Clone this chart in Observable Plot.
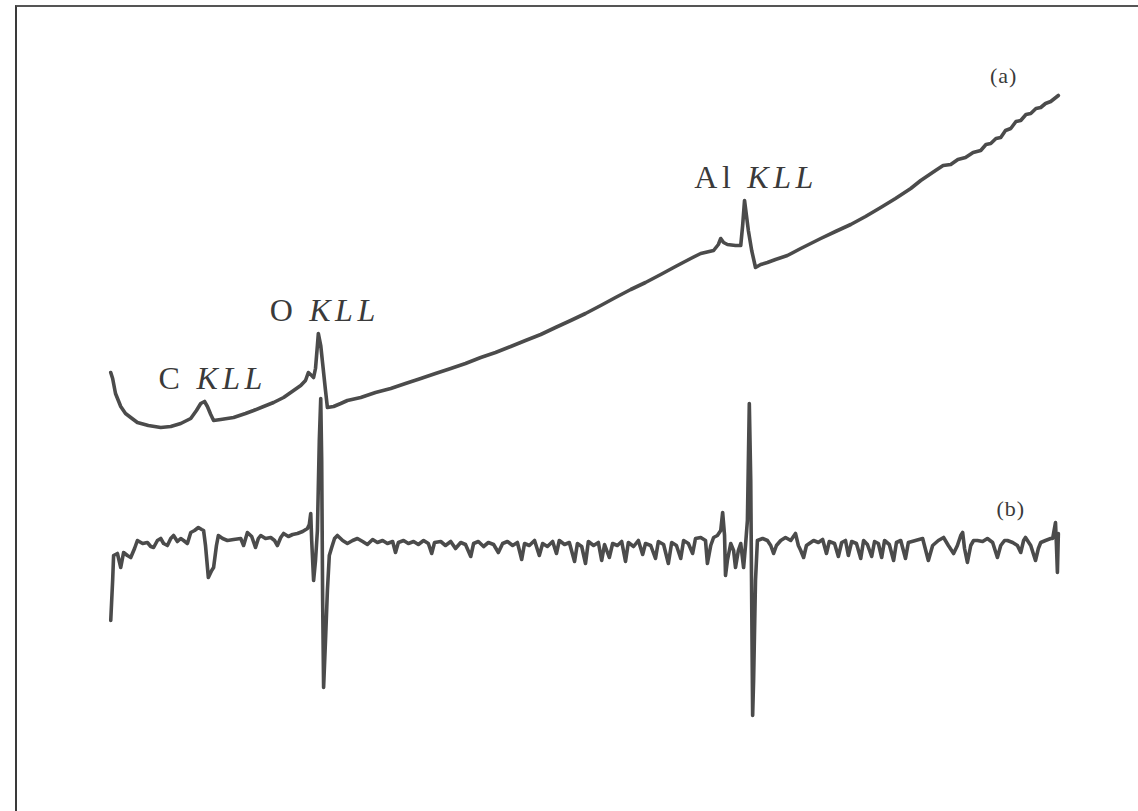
<!DOCTYPE html>
<html>
<head>
<meta charset="utf-8">
<script src="https://cdn.jsdelivr.net/npm/d3@7"></script>
<script src="https://cdn.jsdelivr.net/npm/@observablehq/plot@0.6"></script>
<style>
  html, body { margin: 0; padding: 0; background: #fff; }
  #wrap { position: relative; width: 1138px; height: 811px; overflow: hidden; }
  #wrap svg { position: absolute; left: 0; top: 0; }
  #frame { position: absolute; left: 15px; top: 5px; right: 0; bottom: 0;
           border-left: 2px solid #3a3a3a; border-top: 2px solid #555; pointer-events: none; }
  #wrap svg text.peak { letter-spacing: 4.5px; }
  #wrap svg text.tag { letter-spacing: 1px; }
</style>
</head>
<body>
<div id="wrap"><div id="frame"></div></div>
<script>
// Auger spectrum of an oxidised aluminium surface.
// (a) direct spectrum N(E); (b) differentiated spectrum dN(E)/dE. Energies in eV, intensities in arbitrary units.

const energyA = [74,78,84,95,105,116,130,153,179,200,221,242,254,263,271,277,284,290,305,332,357,374,395,416,437,458,473,483,489,496,500,504,508,510,515,519,525,529,542,557,571,599,630,662,693,725,756,788,819,851,882,914,945,977,1008,1040,1071,1103,1134,1166,1197,1229,1260,1292,1313,1340,1350,1355,1361,1369,1386,1397,1401,1405,1409,1413,1420,1428,1439,1453,1470,1495,1523,1544,1565,1596,1628,1659,1691,1722,1754,1775,1806,1822,1838,1853,1869,1885,1901,1912,1922,1933,1943,1953,1964,1975,1985,1996,2006,2017,2027,2037,2048,2064];
const intensityA = [42.8,42.2,40.7,39.4,38.7,38.3,37.8,37.5,37.3,37.4,37.7,38.2,39.0,39.7,39.9,39.4,38.6,38.0,38.1,38.3,38.7,39.0,39.4,39.8,40.3,41.0,41.5,42.0,42.8,42.5,42.3,43.2,45.5,46.7,45.5,43.7,41.0,39.3,39.4,39.7,40.0,40.3,40.8,41.2,41.7,42.2,42.7,43.2,43.7,44.3,44.8,45.4,46.0,46.6,47.3,48.0,48.7,49.5,50.3,51.1,51.8,52.6,53.4,54.2,54.7,55.0,55.6,56.2,55.8,55.6,55.5,55.5,57.5,60.0,58.5,57.0,55.0,53.3,53.6,53.8,54.1,54.5,55.2,55.7,56.2,56.9,57.6,58.4,59.3,60.2,61.2,62.0,63.0,63.5,63.6,64.1,64.3,64.8,65.0,65.6,65.7,66.2,66.3,67.0,67.2,67.9,68.0,68.6,68.7,69.2,69.3,69.7,69.9,70.5];

const energyB = [
  74,78,80,88,95,101,109,116,124,130,141,151,158,164,172,179,185,193,200,206,214,221,227,235,242,250,258,265,269,273,279,286,290,296,300,309,319,332,347,353,361,370,378,384,389,399,410,418,424,431,437,447,456,466,477,487,491,494,496,500,504,508,512,515,517,519,521,525,529,533,538,544,550,561,571,582,592,
  603,613,624,634,645,655,666,672,678,689,699,710,720,731,741,748,754,767,777,788,798,809,819,830,836,846,857,867,878,888,897,907,918,928,937,943,953,964,974,981,991,1002,1010,1016,1027,1037,1048,1054,1063,1071,1077,1088,1098,1105,1111,1121,1128,1138,1147,1155,1161,1172,1182,1191,1197,1208,1218,1224,1235,1245,1252,1262,1271,1277,1287,1296,1302,
  1313,1323,1327,1334,1340,1348,1355,1359,1363,1365,1369,1376,1382,1386,1392,1397,1403,1407,1411,1415,1418,1420,1422,1424,1428,1432,1443,1453,1460,1466,1472,1481,1491,1502,1512,1518,1523,1529,1535,1550,1560,1569,1577,1583,1594,1602,1609,1617,1623,1630,1640,1649,1655,1663,1672,1678,1686,1693,1699,1709,1718,1724,
  1733,1743,1749,1764,1779,1791,1800,1812,1823,1833,1844,1852,1859,1863,1867,1873,1880,1886,1894,1905,1915,1926,1936,1943,1951,1957,1968,1978,1985,1991,1995,2006,2016,2022,2027,2037,2048,2052,2058,2060,2062,2064
];
const intensityB = [
  18.0,22.0,24.5,24.7,23.3,24.8,24.5,24.3,25.2,26.0,25.7,25.8,25.4,25.3,26.0,26.2,25.7,25.5,26.2,26.5,25.9,26.2,26.0,25.7,26.8,27.0,27.3,27.1,27.0,25.5,22.3,23.0,23.3,25.5,26.5,26.2,26.0,26.1,26.2,25.5,26.8,26.4,25.3,26.2,26.5,26.2,26.3,26.0,25.5,26.3,26.7,26.4,26.6,26.7,26.9,27.2,27.6,28.7,26.0,22.0,24.0,27.0,36.0,40.2,34.0,20.0,11.3,16.0,21.0,24.5,25.3,26.2,26.5,26.0,25.7,26.0,26.2,
  25.9,25.6,26.1,25.8,26.0,25.7,25.9,24.8,25.8,26.0,25.7,25.9,25.6,26.0,25.7,24.7,25.8,25.9,25.5,25.9,25.2,25.8,25.6,24.4,25.7,25.9,25.4,25.8,25.6,24.8,25.7,25.9,25.5,25.8,24.1,25.7,25.5,26.0,24.5,25.7,25.4,25.9,24.7,26.0,25.6,25.8,23.9,25.7,25.4,23.7,25.9,25.5,25.8,24.0,25.6,24.3,25.7,25.5,25.9,23.9,25.8,25.4,26.0,24.6,25.7,25.5,24.2,25.9,25.6,23.7,25.8,25.5,24.2,26.0,25.7,24.7,26.2,
  26.3,26.0,23.7,25.5,26.3,26.5,27.0,28.8,26.5,22.5,24.0,25.7,25.0,23.3,25.0,25.7,23.3,25.5,28.0,39.7,32.0,20.0,8.5,12.0,22.0,26.0,26.2,26.0,25.5,24.7,25.5,26.0,26.3,26.0,26.7,25.5,25.0,24.3,25.5,26.0,25.8,26.1,24.7,25.9,25.7,24.4,25.8,26.0,24.5,25.9,25.7,24.2,26.0,25.6,24.4,25.9,25.7,24.3,26.0,25.6,24.0,25.8,
  26.0,24.2,25.8,26.0,26.2,24.0,25.5,26.0,26.3,25.5,24.7,25.5,26.5,26.8,25.2,23.8,25.5,26.0,26.0,25.9,26.2,25.8,24.3,25.5,26.0,26.0,25.8,25.5,24.8,26.0,26.3,25.5,24.0,25.2,25.8,26.0,26.2,26.2,27.8,25.5,22.8,26.7
];

// Peak annotations: element symbol + transition, placed by energy / intensity
const elements = ["C", "O", "Al"];
const transitions = ["KLL", "KLL", "KLL"];
const labelEnergy = [235, 472, 1392];
const labelLevel = [41.2, 48.0, 61.3];

// Curve tags
const curveTags = ["(a)", "(b)"];
const tagEnergy = [1949, 1964];
const tagLevel = [72.5, 29.2];

const spectrumA = energyA.map((e, i) => ({energy: e, intensity: intensityA[i]}));
const spectrumB = energyB.map((e, i) => ({energy: e, intensity: intensityB[i]}));
const peakLabels = elements.map((s, i) => ({symbol: s, transition: transitions[i], energy: labelEnergy[i], level: labelLevel[i]}));
const tags = curveTags.map((t, i) => ({tag: t, energy: tagEnergy[i], level: tagLevel[i]}));

const ink = "#4b4b4b";
const serif = "'Liberation Serif', 'DejaVu Serif', serif";

const chart = Plot.plot({
  width: 1138,
  height: 811,
  margin: 0,
  style: {background: "transparent"},
  x: {domain: [0, 2100], range: [75, 1075], axis: null},
  y: {domain: [0, 80], range: [800, 0], axis: null},
  marks: [
    Plot.line(spectrumA, {x: "energy", y: "intensity", stroke: ink, strokeWidth: 3.6, strokeLinejoin: "round", strokeLinecap: "round"}),
    Plot.line(spectrumB, {x: "energy", y: "intensity", stroke: ink, strokeWidth: 3.6, strokeLinejoin: "round", strokeLinecap: "round"}),
    Plot.text(peakLabels, {x: "energy", y: "level", text: "symbol", textAnchor: "end", lineAnchor: "bottom", dx: -3,
      fontFamily: serif, fontSize: 32, fill: "#3a3a3a", className: "peak"}),
    Plot.text(peakLabels, {x: "energy", y: "level", text: "transition", textAnchor: "start", lineAnchor: "bottom", dx: 9,
      fontFamily: serif, fontSize: 32, fontStyle: "italic", fill: "#3a3a3a", className: "peak"}),
    Plot.text(tags, {x: "energy", y: "level", text: "tag", fontFamily: serif, fontSize: 22, fill: "#3a3a3a", className: "tag"})
  ]
});

// Plot puts the class on the mark's group; push it down to the text elements for the CSS rules
chart.querySelectorAll("g.peak text").forEach(t => t.classList.add("peak"));
chart.querySelectorAll("g.tag text").forEach(t => t.classList.add("tag"));

document.getElementById("wrap").prepend(chart);
</script>
</body>
</html>
